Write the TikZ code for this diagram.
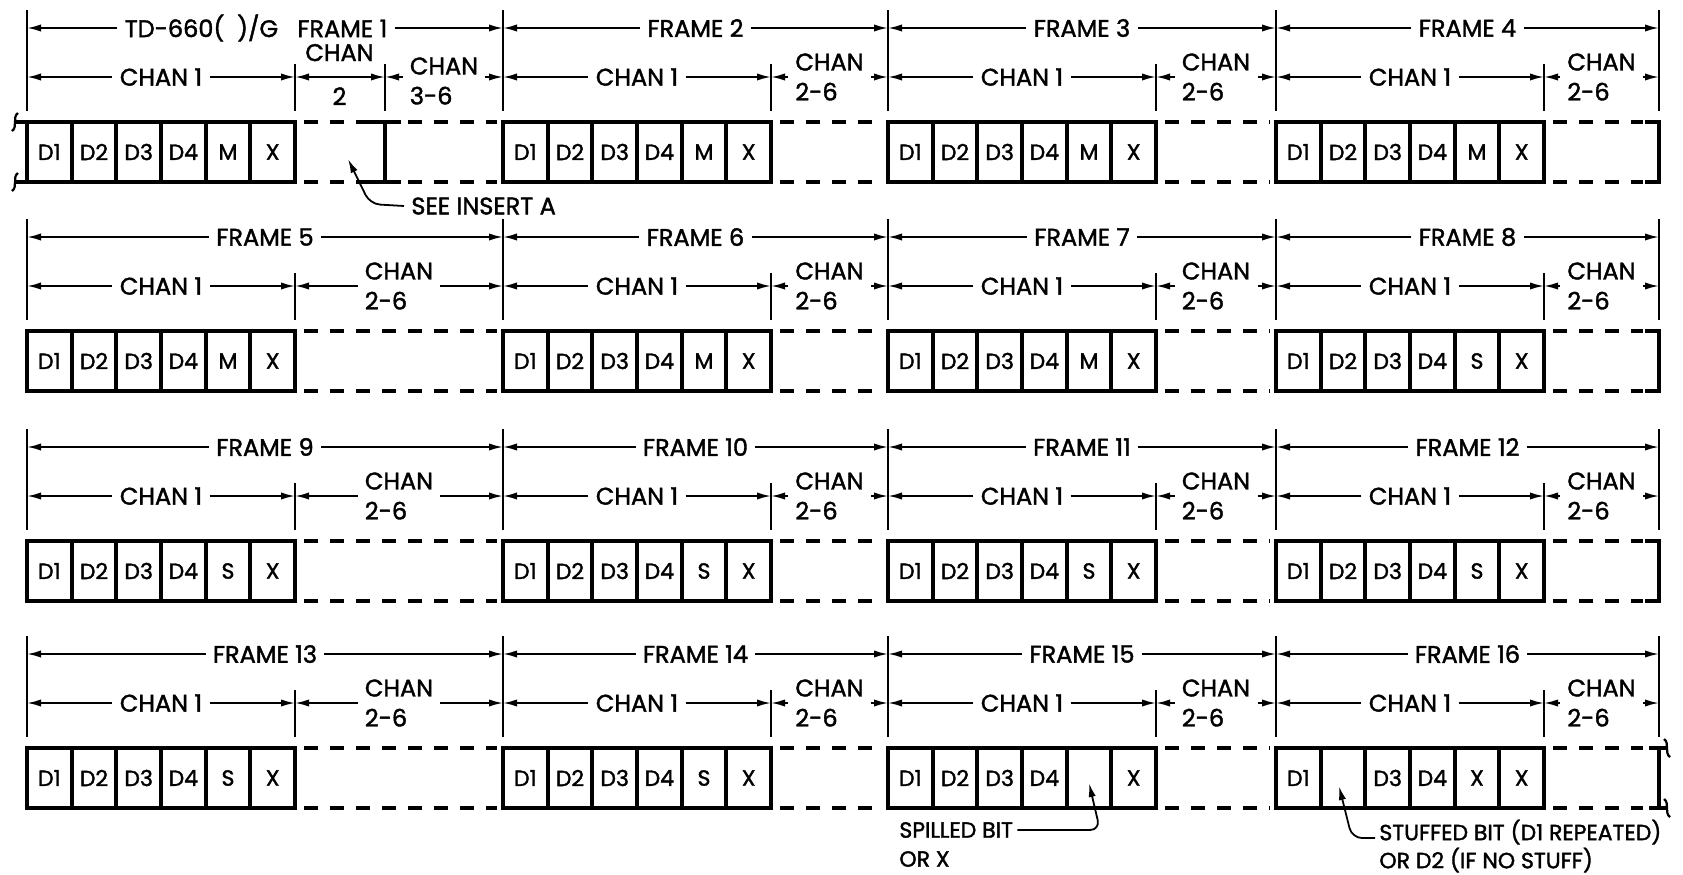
\documentclass[tikz,border=0pt]{standalone}
\usepackage{fontspec}
\setmainfont{Poppins}[UprightFeatures={FakeBold=1.6}]
\usetikzlibrary{arrows.meta,positioning}

\tikzset{
  dimtip/.tip={Latex[length=7pt,width=3.6pt]},
  dimline/.style={line width=0.9pt,-dimtip},
  tickline/.style={line width=0.9pt},
  boxline/.style={line width=1.9pt},
  gapline/.style={line width=1.9pt,dash pattern=on 7pt off 6pt},
  curl/.style={line width=1.1pt},
  cell/.style={draw,line width=1.9pt,minimum width=22.33pt,minimum height=30pt,
    inner sep=0pt,outer sep=0pt,anchor=north west,font=\fontsize{11}{12}\selectfont},
  lbl/.style={font=\fontsize{12}{14}\selectfont,inner sep=3.5pt},
  chanlbl/.style={lbl,align=left,font=\fontsize{12}{15}\selectfont},
  note/.style={font=\fontsize{11}{13}\selectfont,inner sep=2pt,anchor=west},
  leader/.style={line width=0.9pt,-dimtip,rounded corners=5pt},
}

\begin{document}
\begin{tikzpicture}[x=0.5pt,y=-0.5pt]
\useasboundingbox (0,0) rectangle (1683,874);

\foreach \r/\T in {1/122,2/331,3/541,4/748}{
  \foreach \c/\xa/\xb in {1/27/503,2/503/888,3/888/1276,4/1276/1659}{
    \pgfmathtruncatemacro{\f}{4*(\r-1)+\c}
    \pgfmathsetmacro{\xc}{\xa+268}
    % cells of channel 1
    \ifnum\f<8 \def\bits{D1,D2,D3,D4,M,X}\else
      \ifnum\f<15 \def\bits{D1,D2,D3,D4,S,X}\else
        \ifnum\f=15 \def\bits{D1,D2,D3,D4,{},X}\else
          \def\bits{D1,{},D3,D4,X,X}\fi\fi\fi
    \foreach \t [count=\i] in \bits
      \node[cell] (b\f-\i) at ({\xa+(\i-1)*44.67},\T) {\t};
    \ifnum\c=4
      \draw[gapline] (\xc+9,\T) -- (\xb-16,\T) (\xc+9,\T+60) -- (\xb-16,\T+60);
      \draw[tickline] (\xb,\T-112) -- (\xb,\T-11);
    \else
      \draw[gapline] (\xc+9,\T) -- (\xb-6,\T) (\xc+9,\T+60) -- (\xb-6,\T+60);
    \fi
    \draw[tickline] (\xa,\T-112) -- (\xa,\T-11);
    \draw[tickline] (\xc,\T-58) -- (\xc,\T-11);
    % dimension lines
    \coordinate (fa\f) at (\xa,\T-94);
    \coordinate (fb\f) at (\xb,\T-94);
    \coordinate (ka\f) at (\xa,\T-45);
    \coordinate (kb\f) at (\xc,\T-45);
    \coordinate (kc\f) at (\xb,\T-45);
    \ifnum\f=1
      \node[lbl] (fl\f) at (256,\T-94) {TD-660(~~)/G\hspace{0.8em}FRAME 1};
    \else
      \node[lbl] (fl\f) at ({(\xa+\xb)/2},\T-94) {FRAME \f};
    \fi
    \draw[dimline] (fl\f.west) -- (fa\f);
    \draw[dimline] (fl\f.east) -- (fb\f);
    \node[lbl] (k\f) at ({\xa+134},\T-45) {CHAN 1};
    \draw[dimline] (k\f.west) -- (ka\f);
    \draw[dimline] (k\f.east) -- (kb\f);
    \ifnum\f>1
      \node[chanlbl] (kr\f) at ({(\xc+\xb)/2},\T-45) {CHAN\\2-6};
      \draw[dimline] (kr\f.west) -- (kb\f);
      \draw[dimline] (kr\f.east) -- (kc\f);
    \fi
  }
  % row ends
  \ifnum\r<4
    \draw[boxline] (1645,\T) -- (1659,\T) -- (1659,\T+60) -- (1645,\T+60);
  \else
    \draw[boxline] (1659,\T) -- (1659,\T+60) (1649,\T) -- (1666,\T) (1649,\T+60) -- (1666,\T+60);
    \draw[curl] (1664,\T-9) .. controls (1670,\T-5) and (1664,\T+5) .. (1670,\T+9);
    \draw[curl] (1664,\T+51) .. controls (1670,\T+55) and (1664,\T+65) .. (1670,\T+69);
  \fi
}

% frame 1: channel 2 and channels 3-6
\coordinate (kd1) at (385,77);
\node[lbl,anchor=base] (two) at (339.5,61) {CHAN};
\node[lbl,anchor=base] (twob) at (339.5,105) {2};
\draw[dimline,dimtip-dimtip] (kb1) -- (kd1);
\node[chanlbl] (kr1) at (444,81) {CHAN\\3-6};
\draw[dimline] (kr1.west |- kd1) -- (kd1);
\draw[dimline] (kr1.east |- kc1) -- (kc1);
\draw[tickline] (385,64) -- (385,111);
\draw[boxline] (385,122) -- (385,182) (369,122) -- (401,122) (369,182) -- (401,182);

% broken line at the start
\draw[boxline] (27,122) -- (15,122) (27,182) -- (15,182);
\draw[curl] (18,113) .. controls (12,117) and (18,127) .. (12,131);
\draw[curl] (18,173) .. controls (12,177) and (18,187) .. (12,191);

% notes
\node[lbl,anchor=west] (insA) at (404,206) {SEE INSERT A};
\coordinate (insAk) at (370,204);
\coordinate (insAtip) at (348,159);
\draw[leader] (insA.west) -- (insAk) -- (insAtip);

\node[note] (spill) at (895,830) {SPILLED BIT};
\node[note] (spillor) at (895,859) {OR X};
\coordinate (spillk) at (1100,830);
\coordinate (spilltip) at (1089,783);
\draw[leader] (spill.east) -- (spillk) -- (spilltip);

\node[note] (stuff) at (1375,832) {STUFFED BIT (D1 REPEATED)};
\node[note] (stuffor) at (1375,860) {OR D2 (IF NO STUFF)};
\coordinate (stuffk) at (1352,838);
\coordinate (stufftip) at (1339,786);
\draw[leader] (stuff.west |- stuffk) -- (stuffk) -- (stufftip);
\end{tikzpicture}
\end{document}
